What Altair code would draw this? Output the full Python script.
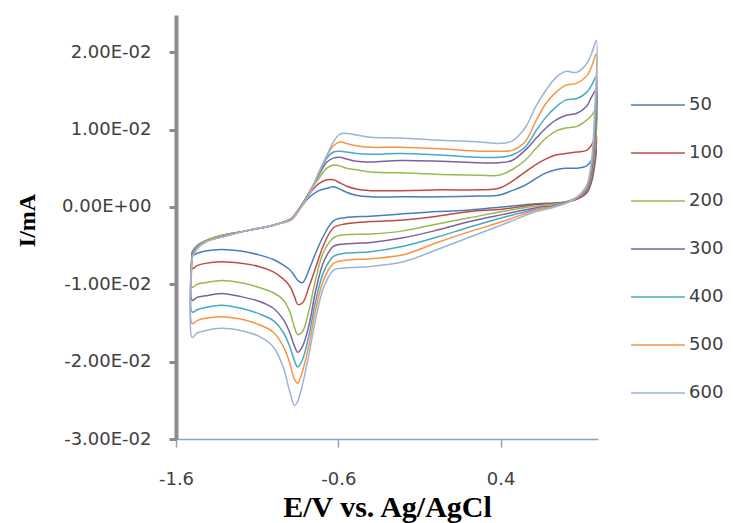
import altair as alt
import pandas as pd

# Scan rates (mV/s) and Excel-like series colours
rates = ["50", "100", "200", "300", "400", "500", "600"]
colors = ["#4A7EBB", "#BE4B48", "#98B954", "#7D60A0", "#46AAC5", "#F69544", "#9DB3DC"]

# Potentials (V vs Ag/AgCl) for the forward (anodic) and reverse (cathodic) sweeps
E_forward = [-1.50, -1.47, -1.42, -1.32, -1.17, -0.99, -0.89, -0.83, -0.77, -0.72,
             -0.67, -0.63, -0.59, -0.55, -0.49, -0.40, -0.22, 0.03, 0.27, 0.39,
             0.47, 0.55, 0.62, 0.68, 0.74, 0.80, 0.87, 0.93, 0.96, 0.99]
E_reverse = [0.98, 0.96, 0.93, 0.87, 0.79, 0.72, 0.62, 0.41, 0.21, 0.01,
             -0.20, -0.40, -0.56, -0.63, -0.69, -0.74, -0.78, -0.82, -0.85, -0.87,
             -0.90, -0.94, -1.00, -1.09, -1.20, -1.32, -1.42, -1.47, -1.50]

# Currents in units of 1e-3
I_fwd_50 = [-5.8, -5.0, -4.4, -3.7, -3.1, -2.3, -1.5, 0.0, 1.4, 2.1, 2.4, 2.6, 2.3, 1.9, 1.5,
            1.3, 1.3, 1.3, 1.4, 1.5, 2.1, 2.8, 3.7, 4.4, 4.8, 5.0, 5.0, 5.3, 6.0, 7.6]
I_rev_50 = [5.4, 3.2, 1.8, 1.0, 0.6, 0.5, 0.4, 0.0, -0.4, -0.6, -0.9, -1.2, -1.4, -1.8, -3.7,
            -6.0, -8.1, -9.8, -9.5, -8.9, -8.1, -7.5, -6.8, -6.2, -5.7, -5.5, -5.7, -6.0, -6.3]

I_fwd_100 = [-5.9, -5.1, -4.4, -3.7, -3.1, -2.3, -1.5, 0.1, 1.9, 3.0, 3.5, 3.5, 3.1, 2.7, 2.3,
             2.1, 2.1, 2.2, 2.2, 2.4, 3.3, 4.5, 5.5, 6.2, 6.7, 6.9, 7.1, 7.3, 8.0, 9.3]
I_rev_100 = [6.0, 3.5, 1.9, 1.0, 0.6, 0.4, 0.3, -0.3, -0.6, -1.2, -1.7, -1.9, -2.2, -2.7, -4.9,
             -7.9, -10.3, -12.4, -12.6, -11.6, -10.2, -9.3, -8.4, -7.7, -7.3, -7.1, -7.3, -7.6, -8.0]

I_fwd_200 = [-6.0, -5.1, -4.4, -3.7, -3.1, -2.3, -1.5, 0.1, 2.2, 3.7, 5.0, 5.4, 5.3, 5.0, 4.8,
             4.5, 4.4, 4.2, 4.1, 4.1, 4.8, 6.0, 7.6, 8.9, 9.8, 10.2, 10.4, 11.2, 11.8, 12.7]
I_rev_200 = [7.3, 4.1, 2.2, 1.2, 0.6, 0.3, 0.1, -0.6, -1.4, -2.2, -3.1, -3.5, -3.6, -4.0, -5.8,
             -9.4, -13.3, -16.1, -16.5, -15.6, -13.5, -12.0, -11.1, -10.4, -9.8, -9.5, -9.8, -10.0, -10.4]

I_fwd_300 = [-6.2, -5.3, -4.5, -3.9, -3.1, -2.3, -1.5, 0.1, 2.2, 4.1, 5.8, 6.3, 6.4, 6.2, 5.9,
             5.8, 6.0, 5.9, 5.7, 5.7, 6.0, 7.3, 8.9, 10.2, 11.2, 11.8, 12.1, 13.0, 14.2, 15.1]
I_rev_300 = [8.6, 4.5, 2.3, 1.2, 0.5, 0.1, -0.1, -1.0, -1.9, -3.0, -4.0, -4.6, -4.8, -5.1, -7.1,
             -10.9, -15.2, -18.0, -18.8, -18.0, -16.2, -14.5, -13.1, -12.2, -11.6, -11.2, -11.5, -11.7, -12.1]

I_fwd_400 = [-6.3, -5.3, -4.5, -3.9, -3.1, -2.3, -1.5, 0.0, 2.1, 4.2, 6.3, 7.1, 7.2, 7.1, 6.9,
             6.8, 6.9, 6.7, 6.4, 6.4, 6.7, 7.7, 9.9, 11.6, 12.9, 13.8, 14.0, 14.8, 15.7, 16.9]
I_rev_400 = [9.9, 5.0, 2.4, 1.2, 0.4, 0.0, -0.3, -1.4, -2.6, -3.9, -5.1, -5.8, -6.0, -6.4, -8.4,
             -12.2, -16.5, -19.7, -20.7, -19.9, -18.0, -16.2, -14.7, -13.8, -13.1, -12.7, -13.0, -13.3, -13.6]

I_fwd_500 = [-6.4, -5.4, -4.5, -3.9, -3.1, -2.3, -1.5, 0.0, 2.1, 4.4, 6.6, 7.9, 8.4, 8.2, 7.9,
             7.7, 7.7, 7.5, 7.2, 7.2, 7.3, 8.4, 11.2, 13.4, 14.8, 15.7, 16.0, 16.9, 18.1, 19.8]
I_rev_500 = [11.2, 5.4, 2.6, 1.2, 0.4, 0.0, -0.4, -1.9, -3.2, -4.6, -6.2, -6.7, -6.9, -7.3, -9.4,
             -13.3, -17.8, -21.2, -22.8, -22.3, -20.1, -18.0, -16.2, -15.2, -14.5, -14.2, -14.4, -14.7, -15.1]

I_fwd_600 = [-6.6, -5.4, -4.6, -3.9, -3.1, -2.3, -1.7, -0.1, 1.9, 4.5, 6.7, 8.4, 9.4, 9.5, 9.3,
             9.0, 8.9, 8.6, 8.4, 8.2, 8.5, 10.2, 13.1, 15.1, 16.7, 17.5, 17.4, 18.5, 19.8, 21.5]
I_rev_600 = [12.5, 6.0, 2.8, 1.3, 0.4, -0.1, -0.6, -2.3, -3.9, -5.5, -7.1, -7.7, -7.9, -8.2, -10.4,
             -14.5, -19.0, -22.9, -25.1, -25.7, -23.8, -20.7, -18.1, -16.7, -16.0, -15.7, -16.0, -16.3, -16.9]

forward = [I_fwd_50, I_fwd_100, I_fwd_200, I_fwd_300, I_fwd_400, I_fwd_500, I_fwd_600]
reverse = [I_rev_50, I_rev_100, I_rev_200, I_rev_300, I_rev_400, I_rev_500, I_rev_600]

y_ticks = [-0.03, -0.02, -0.01, 0.0, 0.01, 0.02]
x_ticks = [-1.6, -0.6, 0.4]

rows = []
for rate, fwd, rev in zip(rates, forward, reverse):
    E = E_forward + E_reverse + [E_forward[0]]
    I = fwd + rev + [fwd[0]]
    for k, (e, i) in enumerate(zip(E, I)):
        rows.append({"rate": rate, "E": e, "I": i * 1e-3, "k": k})
df = pd.DataFrame(rows)

label_color = "#404040"

chart = (
    alt.Chart(df)
    .mark_line(interpolate="catmull-rom", strokeWidth=1.5)
    .encode(
        x=alt.X(
            "E:Q",
            scale=alt.Scale(domain=[-1.6, 1.0], nice=False, zero=False),
            axis=alt.Axis(
                values=x_ticks,
                labelExpr="datum.value < 0 ? '-' + format(abs(datum.value), '.1f') : format(datum.value, '.1f')",
                title="E/V vs. Ag/AgCl",
                titleFont="Liberation Serif",
                titleFontSize=30,
                titleFontWeight="bold",
                titleColor="#000000",
                titleBaseline="alphabetic",
                titleY=77,
                grid=False,
                domainColor="#8BA3C7",
                domainWidth=1.5,
                tickColor="#8BA3C7",
                tickWidth=1.5,
                tickSize=8,
                labelFont="DejaVu Sans",
                labelFontSize=18,
                labelColor=label_color,
                labelPadding=23,
                labelFlush=False,
            ),
        ),
        y=alt.Y(
            "I:Q",
            scale=alt.Scale(domain=[-0.03, 0.0248], nice=False, zero=False),
            axis=alt.Axis(
                values=y_ticks,
                labelExpr="datum.value == 0 ? '0.00E+00' : (datum.value < 0 ? '-' : '') + format(abs(datum.value) * 100, '.2f') + 'E-02'",
                title="I/mA",
                titleFont="Liberation Serif",
                titleFontSize=24,
                titleFontWeight="bold",
                titleColor="#000000",
                titleAngle=270,
                titleAlign="center",
                titleBaseline="middle",
                titleX=-149,
                titleY=205,
                grid=False,
                domainColor="#8C8C8C",
                domainWidth=4,
                tickColor="#8C8C8C",
                tickWidth=3,
                tickSize=7,
                labelFont="DejaVu Sans",
                labelFontSize=18,
                labelColor=label_color,
                labelPadding=18,
                labelFlush=False,
            ),
        ),
        color=alt.Color(
            "rate:N",
            sort=rates,
            scale=alt.Scale(domain=rates, range=colors),
            legend=alt.Legend(
                title=None,
                orient="none",
                legendX=454,
                legendY=80,
                symbolType="stroke",
                symbolSize=2900,
                symbolStrokeWidth=1.6,
                clipHeight=20,
                rowPadding=28,
                labelFont="DejaVu Sans",
                labelFontSize=18,
                labelColor=label_color,
                labelOffset=3,
                padding=0,
            ),
        ),
        order=alt.Order("k:Q"),
    )
    .properties(
        width=422,
        height=424,
        autosize=alt.AutoSizeParams(type="none"),
        padding={"left": 168, "top": 7, "right": 127, "bottom": 84},
    )
    .configure_view(strokeWidth=0)
)

chart.save("out.html", embed_options={"renderer": "svg", "actions": False})
